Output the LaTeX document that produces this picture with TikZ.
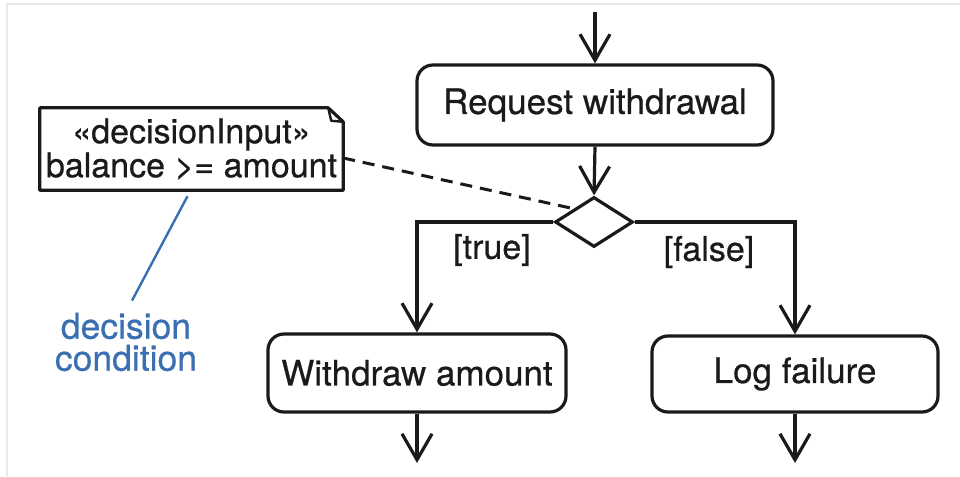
\documentclass[tikz,border=0pt]{standalone}
\usepackage{fontspec}
\setmainfont[FakeBold=0.6]{TeX Gyre Heros}
\usetikzlibrary{arrows.meta,shapes.geometric,calc}
\definecolor{ink}{HTML}{1A1A1A}
\definecolor{noteblue}{HTML}{3A70B2}
\tikzset{
  flow/.style={draw=ink, line width=3.2pt, -{Straight Barb[length=26pt,width=30pt]}},
  plain/.style={draw=ink, line width=3.2pt},
  action/.style={draw=ink, line width=3.2pt, rounded corners=16pt, inner sep=0pt,
    font=\fontsize{35}{40}\selectfont, text=ink},
  guard/.style={font=\fontsize{34}{38}\selectfont, text=ink, inner sep=0pt},
}
\begin{document}
\begin{tikzpicture}[x=1pt,y=-1pt]
  \useasboundingbox (0,0) rectangle (960,476);
  % faint frame
  \draw[gray!18, line width=1.5pt] (7,476) -- (7,4) -- (960,4);

  % actions
  \node[action, minimum width=356pt, minimum height=80pt] (req) at (595,105) {Request withdrawal};
  \node[draw=ink, line width=3.2pt, diamond, minimum width=78pt, minimum height=50pt, inner sep=0pt] (dec) at (594,222) {};
  \node[action, minimum width=298pt, minimum height=78pt] (wd) at (417,373) {Withdraw amount};
  \node[action, minimum width=286pt, minimum height=76pt] (lf) at (795,374) {Log failure};

  % free ends
  \coordinate (start) at (595,12);
  \coordinate (endA) at (417,463);
  \coordinate (endB) at (795,463);

  % control flow
  \draw[flow] (start) -- (req.north);
  \draw[flow] (req.south) -- (dec.north);
  \draw[flow] (dec.west) -| (wd.north);
  \draw[flow] (dec.east) -| (lf.north);
  \draw[flow] (wd.south) -- (endA);
  \draw[flow] (lf.south) -- (endB);

  % guards
  \node[guard] (gt) at (492,250) {[true]};
  \node[guard] (gf) at (709,252) {[false]};

  % note with folded corner
  \node[minimum width=303pt, minimum height=82pt, inner sep=0pt, align=center,
        font=\fontsize{34}{34}\selectfont, text=ink] (note) at (191.5,149)
        {«decisionInput»\\balance >= amount};
  \draw[plain, line join=round]
    (note.south west) -- (note.north west) -- ([xshift=-15pt]note.north east)
    -- ([yshift=-14pt]note.north east) -- (note.south east) -- cycle;
  \draw[draw=ink, line width=2.4pt, line join=round]
    ([xshift=-15pt]note.north east) -- ([xshift=-12pt,yshift=-13pt]note.north east)
    -- ([yshift=-14pt]note.north east);
  \draw[draw=ink, line width=3pt, dash pattern=on 12pt off 8pt]
    ([yshift=-9pt]note.east) -- (dec.north west);

  % annotation
  \node[font=\fontsize{35.5}{32}\selectfont, text=noteblue, align=center, inner sep=0pt]
    (cond) at (126,342) {decision\\condition};
  \draw[noteblue, line width=2.4pt] ([xshift=-4pt,yshift=-6pt]note.south) -- ([xshift=6pt,yshift=12pt]cond.north);
\end{tikzpicture}
\end{document}
